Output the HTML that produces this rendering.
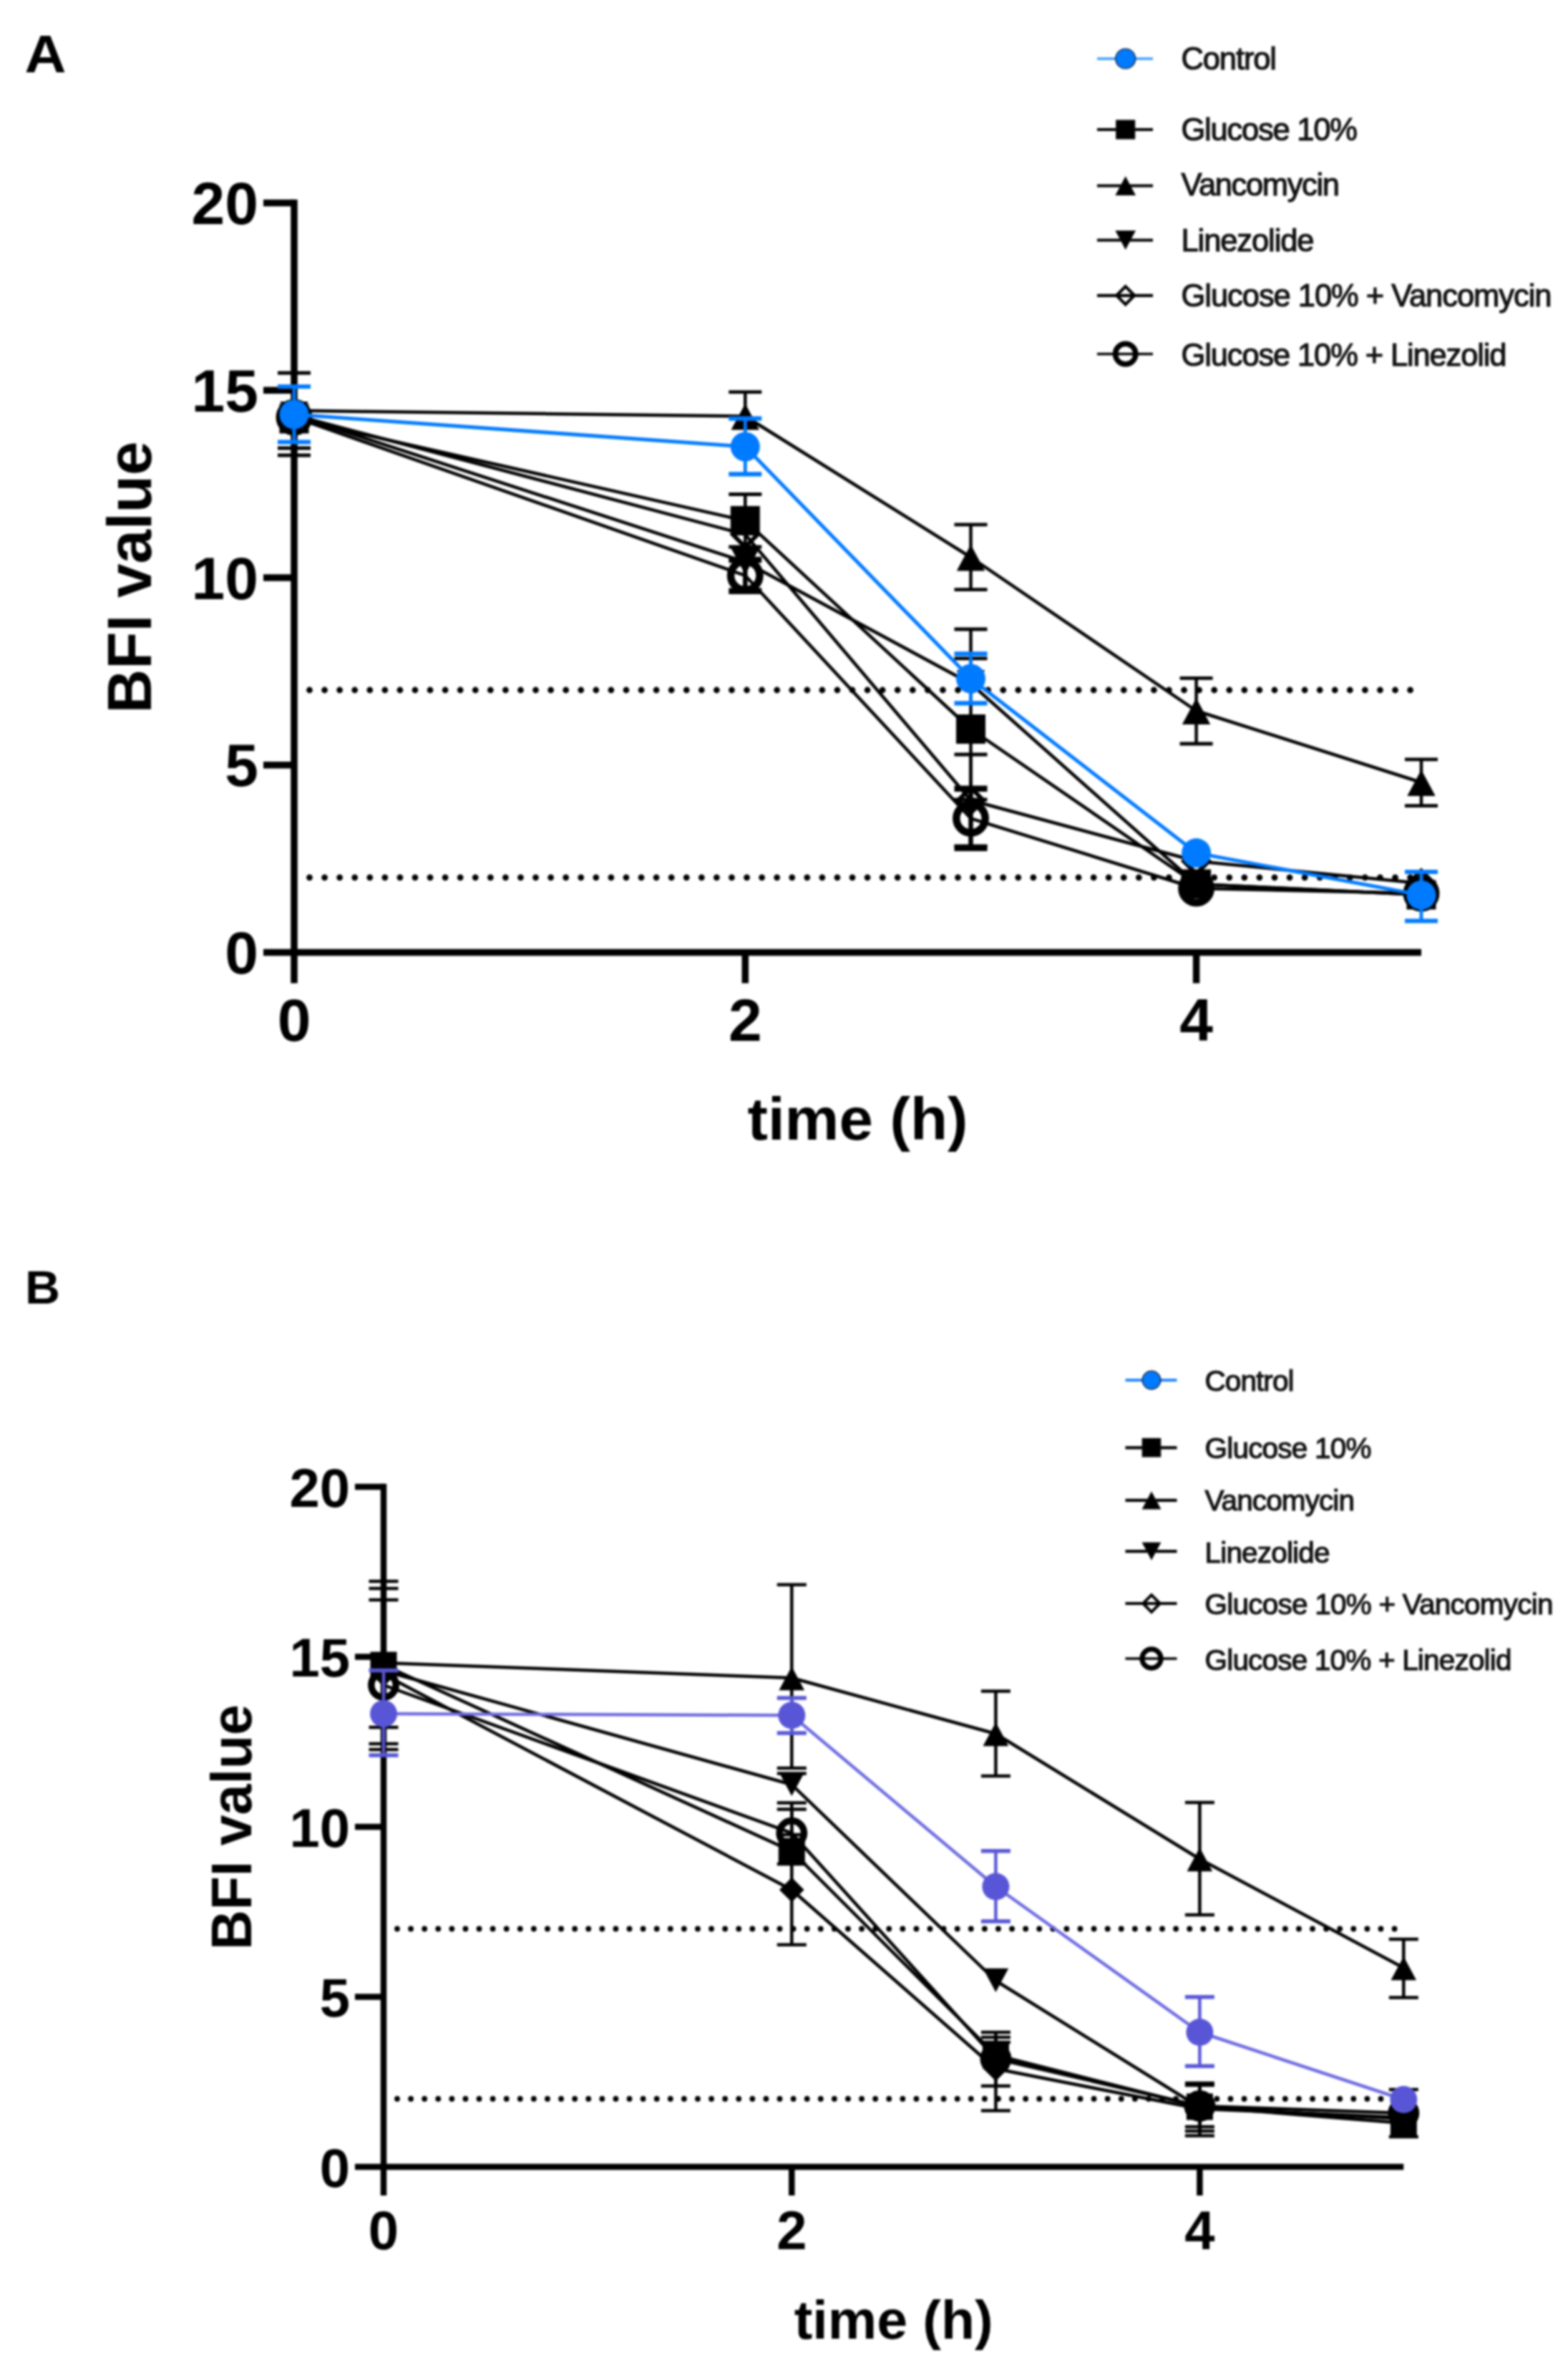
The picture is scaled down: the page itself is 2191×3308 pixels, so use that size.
<!DOCTYPE html>
<html lang="en"><head><meta charset="utf-8"><title>BFI value over time</title>
<style>html,body{margin:0;padding:0;background:#fff}body{width:2191px;height:3308px;overflow:hidden}svg{display:block;filter:blur(1.8px)}</style></head><body>
<svg width="2191" height="3308" viewBox="0 0 2191 3308">
<rect width="2191" height="3308" fill="#fff"/>
<path d="M411.0 278.8V1373.5" stroke="#000" stroke-width="9.5" fill="none"/>
<path d="M368.0 1330.5H1986.0" stroke="#000" stroke-width="9.5" fill="none"/>
<path d="M368.0 1068.8H411.0" stroke="#000" stroke-width="9.5"/>
<path d="M368.0 807.0H411.0" stroke="#000" stroke-width="9.5"/>
<path d="M368.0 545.2H411.0" stroke="#000" stroke-width="9.5"/>
<path d="M368.0 283.5H411.0" stroke="#000" stroke-width="9.5"/>
<path d="M1041.3 1330.5V1373.5" stroke="#000" stroke-width="9.5"/>
<path d="M1671.6 1330.5V1373.5" stroke="#000" stroke-width="9.5"/>
<line x1="432.5" y1="964.0" x2="1972.0" y2="964.0" stroke="#000" stroke-width="8.8" stroke-linecap="round" stroke-dasharray="0 21.07"/>
<line x1="432.5" y1="1225.8" x2="1972.0" y2="1225.8" stroke="#000" stroke-width="8.8" stroke-linecap="round" stroke-dasharray="0 21.07"/>
<path d="M1041.3 547.6V581.5" stroke="#000" stroke-width="4.5" fill="none"/>
<path d="M1018.3 547.6h46" stroke="#000" stroke-width="4.8" fill="none"/>
<path d="M1356.5 732.8V823.6" stroke="#000" stroke-width="4.5" fill="none"/>
<path d="M1333.5 732.8h46M1333.5 823.6h46" stroke="#000" stroke-width="4.8" fill="none"/>
<path d="M1671.6 947.3V1039.0" stroke="#000" stroke-width="4.5" fill="none"/>
<path d="M1648.6 947.3h46M1648.6 1039.0h46" stroke="#000" stroke-width="4.8" fill="none"/>
<path d="M1986.0 1060.8V1125.7" stroke="#000" stroke-width="4.5" fill="none"/>
<path d="M1963.0 1060.8h46M1963.0 1125.7h46" stroke="#000" stroke-width="4.8" fill="none"/>
<path d="M411.0 573.6 L1041.3 581.5 L1356.5 778.5 L1671.6 993.0 L1986.0 1093.0" stroke="#000" stroke-width="4.5" fill="none" stroke-linejoin="round"/>
<polygon points="411.0,555.8 430.7,592.7 391.3,592.7" fill="#000"/>
<polygon points="1041.3,563.7 1061.0,600.6 1021.6,600.6" fill="#000"/>
<polygon points="1356.5,760.7 1376.2,797.6 1336.8,797.6" fill="#000"/>
<polygon points="1671.6,975.2 1691.3,1012.1 1651.9,1012.1" fill="#000"/>
<polygon points="1986.0,1075.2 2005.7,1112.1 1966.3,1112.1" fill="#000"/>
<path d="M411.0 521.0V636.0" stroke="#000" stroke-width="4.5" fill="none"/>
<path d="M388.0 521.0h46M388.0 636.0h46" stroke="#000" stroke-width="4.8" fill="none"/>
<path d="M1041.3 690.5V764.0" stroke="#000" stroke-width="4.5" fill="none"/>
<path d="M1018.3 690.5h46M1018.3 764.0h46" stroke="#000" stroke-width="4.8" fill="none"/>
<path d="M1356.5 919.8V1117.0" stroke="#000" stroke-width="4.5" fill="none"/>
<path d="M1333.5 919.8h46M1333.5 1117.0h46" stroke="#000" stroke-width="4.8" fill="none"/>
<path d="M411.0 585.0 L1041.3 727.4 L1356.5 1018.5 L1671.6 1235.0 L1986.0 1250.0" stroke="#000" stroke-width="4.5" fill="none" stroke-linejoin="round"/>
<rect x="390.5" y="564.5" width="41.0" height="41.0" fill="#000"/>
<rect x="1020.8" y="706.9" width="41.0" height="41.0" fill="#000"/>
<rect x="1336.0" y="998.0" width="41.0" height="41.0" fill="#000"/>
<rect x="1651.1" y="1214.5" width="41.0" height="41.0" fill="#000"/>
<rect x="1965.5" y="1229.5" width="41.0" height="41.0" fill="#000"/>
<path d="M411.0 580.0V626.0" stroke="#000" stroke-width="4.5" fill="none"/>
<path d="M388.0 626.0h46" stroke="#000" stroke-width="4.8" fill="none"/>
<path d="M1356.5 879.0V955.0" stroke="#000" stroke-width="4.5" fill="none"/>
<path d="M1333.5 879.0h46" stroke="#000" stroke-width="4.8" fill="none"/>
<path d="M411.0 580.0 L1041.3 785.0 L1356.5 955.0 L1671.6 1235.0 L1986.0 1250.0" stroke="#000" stroke-width="4.5" fill="none" stroke-linejoin="round"/>
<polygon points="411.0,597.8 430.7,560.9 391.3,560.9" fill="#000"/>
<polygon points="1041.3,802.8 1061.0,765.9 1021.6,765.9" fill="#000"/>
<polygon points="1356.5,972.8 1376.2,935.9 1336.8,935.9" fill="#000"/>
<polygon points="1671.6,1252.8 1691.3,1215.9 1651.9,1215.9" fill="#000"/>
<polygon points="1986.0,1267.8 2005.7,1230.9 1966.3,1230.9" fill="#000"/>
<path d="M1356.5 1054.0V1182.0" stroke="#000" stroke-width="4.5" fill="none"/>
<path d="M1333.5 1054.0h46M1333.5 1182.0h46" stroke="#000" stroke-width="4.8" fill="none"/>
<path d="M411.0 580.0 L1041.3 746.6 L1356.5 1118.0 L1671.6 1203.0 L1986.0 1234.0" stroke="#000" stroke-width="4.5" fill="none" stroke-linejoin="round"/>
<polygon points="411.0,562.5 428.5,580.0 411.0,597.5 393.5,580.0" fill="none" stroke="#000" stroke-width="6" stroke-linejoin="miter"/>
<polygon points="1041.3,729.1 1058.8,746.6 1041.3,764.1 1023.8,746.6" fill="none" stroke="#000" stroke-width="6" stroke-linejoin="miter"/>
<polygon points="1356.5,1100.5 1374.0,1118.0 1356.5,1135.5 1339.0,1118.0" fill="none" stroke="#000" stroke-width="6" stroke-linejoin="miter"/>
<polygon points="1671.6,1185.5 1689.1,1203.0 1671.6,1220.5 1654.1,1203.0" fill="none" stroke="#000" stroke-width="6" stroke-linejoin="miter"/>
<polygon points="1986.0,1216.5 2003.5,1234.0 1986.0,1251.5 1968.5,1234.0" fill="none" stroke="#000" stroke-width="6" stroke-linejoin="miter"/>
<path d="M1041.3 782.0V825.7" stroke="#000" stroke-width="6.5" fill="none"/>
<path d="M1018.3 782.0h46M1018.3 825.7h46" stroke="#000" stroke-width="8.5" fill="none"/>
<path d="M1356.5 1101.8V1184.8" stroke="#000" stroke-width="6.5" fill="none"/>
<path d="M1333.5 1101.8h46M1333.5 1184.8h46" stroke="#000" stroke-width="8.5" fill="none"/>
<path d="M411.0 583.0 L1041.3 804.0 L1356.5 1143.3 L1671.6 1241.0 L1986.0 1248.0" stroke="#000" stroke-width="4.5" fill="none" stroke-linejoin="round"/>
<circle cx="411.0" cy="583.0" r="20.2" fill="none" stroke="#000" stroke-width="10.5"/>
<circle cx="1041.3" cy="804.0" r="20.2" fill="none" stroke="#000" stroke-width="10.5"/>
<circle cx="1356.5" cy="1143.3" r="20.2" fill="none" stroke="#000" stroke-width="10.5"/>
<circle cx="1671.6" cy="1241.0" r="20.2" fill="none" stroke="#000" stroke-width="10.5"/>
<circle cx="1986.0" cy="1248.0" r="20.2" fill="none" stroke="#000" stroke-width="10.5"/>
<path d="M411.0 540.0V617.5" stroke="#007aff" stroke-width="4.8" fill="none"/>
<path d="M388.0 540.0h46M388.0 617.5h46" stroke="#007aff" stroke-width="6.2" fill="none"/>
<path d="M1041.3 584.6V662.4" stroke="#007aff" stroke-width="4.8" fill="none"/>
<path d="M1018.3 584.6h46M1018.3 662.4h46" stroke="#007aff" stroke-width="6.2" fill="none"/>
<path d="M1356.5 913.4V982.3" stroke="#007aff" stroke-width="4.8" fill="none"/>
<path d="M1333.5 913.4h46M1333.5 982.3h46" stroke="#007aff" stroke-width="6.2" fill="none"/>
<path d="M1986.0 1218.0V1286.5" stroke="#007aff" stroke-width="4.8" fill="none"/>
<path d="M1963.0 1218.0h46M1963.0 1286.5h46" stroke="#007aff" stroke-width="6.2" fill="none"/>
<path d="M411.0 579.0 L1041.3 624.0 L1356.5 948.0 L1671.6 1191.6 L1986.0 1250.4" stroke="#007aff" stroke-width="5" fill="none" stroke-linejoin="round"/>
<circle cx="411.0" cy="579.0" r="20.5" fill="#007aff"/>
<circle cx="1041.3" cy="624.0" r="20.5" fill="#007aff"/>
<circle cx="1356.5" cy="948.0" r="20.5" fill="#007aff"/>
<circle cx="1671.6" cy="1191.6" r="20.5" fill="#007aff"/>
<circle cx="1986.0" cy="1250.4" r="20.5" fill="#007aff"/>
<g font-family="'Liberation Sans',Arial,Helvetica,sans-serif" font-weight="700" font-size="84" fill="#000">
<text x="361.0" y="1360.1" text-anchor="end">0</text>
<text x="361.0" y="1098.3" text-anchor="end">5</text>
<text x="361.0" y="836.6" text-anchor="end">10</text>
<text x="361.0" y="574.8" text-anchor="end">15</text>
<text x="361.0" y="313.1" text-anchor="end">20</text>
<text x="411.0" y="1453.5" text-anchor="middle">0</text>
<text x="1041.3" y="1453.5" text-anchor="middle">2</text>
<text x="1671.6" y="1453.5" text-anchor="middle">4</text>
<text x="1198.5" y="1592.0" text-anchor="middle" textLength="308" lengthAdjust="spacingAndGlyphs">time (h)</text>
<text transform="translate(210.5 806.5) rotate(-90)" font-size="87" text-anchor="middle" textLength="380" lengthAdjust="spacingAndGlyphs">BFI value</text>
</g>
<text x="34.5" y="101" font-family="'Liberation Sans',Arial,sans-serif" font-weight="700" font-size="75" textLength="58" lengthAdjust="spacingAndGlyphs" fill="#000">A</text>
<g font-family="'Liberation Sans',Arial,Helvetica,sans-serif" font-size="43.5" fill="#111" stroke="#111" stroke-width="1.2">
<line x1="1533" y1="82" x2="1611" y2="82" stroke="#3d9bff" stroke-width="3.5"/>
<circle cx="1572.7" cy="82.0" r="14.0" fill="#007aff"/>
<text x="1650.5" y="96.5" textLength="133.5" lengthAdjust="spacing">Control</text>
<line x1="1533" y1="181" x2="1611" y2="181" stroke="#000" stroke-width="4.2"/>
<rect x="1559.7" y="168.0" width="26.0" height="26.0" fill="#000"/>
<text x="1650.5" y="195.5" textLength="246.5" lengthAdjust="spacing">Glucose 10%</text>
<line x1="1533" y1="259.5" x2="1611" y2="259.5" stroke="#000" stroke-width="4.2"/>
<polygon points="1572.7,247.3 1586.1,272.5 1559.3,272.5" fill="#000"/>
<text x="1650.5" y="272.5" textLength="221.5" lengthAdjust="spacing">Vancomycin</text>
<line x1="1533" y1="335.5" x2="1611" y2="335.5" stroke="#000" stroke-width="4.2"/>
<polygon points="1572.7,347.7 1586.1,322.5 1559.3,322.5" fill="#000"/>
<text x="1650.5" y="350.5" textLength="186" lengthAdjust="spacing">Linezolide</text>
<line x1="1533" y1="412.8" x2="1611" y2="412.8" stroke="#000" stroke-width="4.2"/>
<polygon points="1572.7,400.3 1585.2,412.8 1572.7,425.3 1560.2,412.8" fill="none" stroke="#000" stroke-width="4.2" stroke-linejoin="miter"/>
<text x="1650.5" y="427.5" textLength="518" lengthAdjust="spacing">Glucose 10% + Vancomycin</text>
<line x1="1533" y1="494.5" x2="1611" y2="494.5" stroke="#000" stroke-width="3.3"/>
<circle cx="1572.7" cy="494.5" r="14.2" fill="none" stroke="#000" stroke-width="7.5"/>
<text x="1650.5" y="510.5" textLength="455" lengthAdjust="spacing">Glucose 10% + Linezolid</text>
</g>
<path d="M536.0 2072.8V3067.0" stroke="#000" stroke-width="8.5" fill="none"/>
<path d="M496.0 3027.0H1961.3" stroke="#000" stroke-width="8.5" fill="none"/>
<path d="M496.0 2789.5H536.0" stroke="#000" stroke-width="8.5"/>
<path d="M496.0 2552.0H536.0" stroke="#000" stroke-width="8.5"/>
<path d="M496.0 2314.5H536.0" stroke="#000" stroke-width="8.5"/>
<path d="M496.0 2077.0H536.0" stroke="#000" stroke-width="8.5"/>
<path d="M1106.3 3027.0V3067.0" stroke="#000" stroke-width="8.5"/>
<path d="M1676.4 3027.0V3067.0" stroke="#000" stroke-width="8.5"/>
<line x1="555.0" y1="2694.5" x2="1951.0" y2="2694.5" stroke="#000" stroke-width="7.8" stroke-linecap="round" stroke-dasharray="0 19.09"/>
<line x1="555.0" y1="2932.0" x2="1951.0" y2="2932.0" stroke="#000" stroke-width="7.8" stroke-linecap="round" stroke-dasharray="0 19.09"/>
<path d="M536.0 2235.0V2413.0" stroke="#000" stroke-width="4.5" fill="none"/>
<path d="M515.5 2235.0h41M515.5 2413.0h41" stroke="#000" stroke-width="4.5" fill="none"/>
<path d="M1106.3 2213.8V2470.0" stroke="#000" stroke-width="4.5" fill="none"/>
<path d="M1085.8 2213.8h41M1085.8 2470.0h41" stroke="#000" stroke-width="4.5" fill="none"/>
<path d="M1391.4 2362.5V2481.0" stroke="#000" stroke-width="4.5" fill="none"/>
<path d="M1370.9 2362.5h41M1370.9 2481.0h41" stroke="#000" stroke-width="4.5" fill="none"/>
<path d="M1676.4 2518.0V2675.0" stroke="#000" stroke-width="4.5" fill="none"/>
<path d="M1655.9 2518.0h41M1655.9 2675.0h41" stroke="#000" stroke-width="4.5" fill="none"/>
<path d="M1961.3 2709.0V2790.6" stroke="#000" stroke-width="4.5" fill="none"/>
<path d="M1940.8 2709.0h41M1940.8 2790.6h41" stroke="#000" stroke-width="4.5" fill="none"/>
<path d="M536.0 2323.0 L1106.3 2344.0 L1391.4 2422.0 L1676.4 2597.0 L1961.3 2749.0" stroke="#000" stroke-width="4.5" fill="none" stroke-linejoin="round"/>
<polygon points="536.0,2306.9 553.8,2340.2 518.2,2340.2" fill="#000"/>
<polygon points="1106.3,2327.9 1124.1,2361.2 1088.5,2361.2" fill="#000"/>
<polygon points="1391.4,2405.9 1409.2,2439.2 1373.6,2439.2" fill="#000"/>
<polygon points="1676.4,2580.9 1694.2,2614.2 1658.6,2614.2" fill="#000"/>
<polygon points="1961.3,2732.9 1979.1,2766.2 1943.5,2766.2" fill="#000"/>
<path d="M536.0 2209.0V2436.0" stroke="#000" stroke-width="4.5" fill="none"/>
<path d="M515.5 2209.0h41M515.5 2436.0h41" stroke="#000" stroke-width="4.5" fill="none"/>
<path d="M1106.3 2527.5V2586.0" stroke="#000" stroke-width="4.5" fill="none"/>
<path d="M1085.8 2527.5h41" stroke="#000" stroke-width="4.5" fill="none"/>
<path d="M1391.4 2839.0V2914.0" stroke="#000" stroke-width="4.5" fill="none"/>
<path d="M1370.9 2839.0h41M1370.9 2914.0h41" stroke="#000" stroke-width="4.5" fill="none"/>
<path d="M1676.4 2913.0V2971.0" stroke="#000" stroke-width="4.5" fill="none"/>
<path d="M1655.9 2913.0h41M1655.9 2971.0h41" stroke="#000" stroke-width="4.5" fill="none"/>
<path d="M536.0 2326.0 L1106.3 2586.0 L1391.4 2871.0 L1676.4 2943.0 L1961.3 2966.0" stroke="#000" stroke-width="4.5" fill="none" stroke-linejoin="round"/>
<rect x="517.5" y="2307.5" width="37.0" height="37.0" fill="#000"/>
<rect x="1087.8" y="2567.5" width="37.0" height="37.0" fill="#000"/>
<rect x="1372.9" y="2852.5" width="37.0" height="37.0" fill="#000"/>
<rect x="1657.9" y="2924.5" width="37.0" height="37.0" fill="#000"/>
<rect x="1942.8" y="2947.5" width="37.0" height="37.0" fill="#000"/>
<path d="M536.0 2219.0V2444.0" stroke="#000" stroke-width="4.5" fill="none"/>
<path d="M515.5 2219.0h41M515.5 2444.0h41" stroke="#000" stroke-width="4.5" fill="none"/>
<path d="M1106.3 2477.5V2493.0" stroke="#000" stroke-width="4.5" fill="none"/>
<path d="M1085.8 2477.5h41" stroke="#000" stroke-width="4.5" fill="none"/>
<path d="M536.0 2334.0 L1106.3 2493.0 L1391.4 2767.0 L1676.4 2944.0 L1961.3 2960.0" stroke="#000" stroke-width="4.5" fill="none" stroke-linejoin="round"/>
<polygon points="536.0,2350.1 553.8,2316.8 518.2,2316.8" fill="#000"/>
<polygon points="1106.3,2509.1 1124.1,2475.8 1088.5,2475.8" fill="#000"/>
<polygon points="1391.4,2783.1 1409.2,2749.8 1373.6,2749.8" fill="#000"/>
<polygon points="1676.4,2960.1 1694.2,2926.8 1658.6,2926.8" fill="#000"/>
<polygon points="1961.3,2976.1 1979.1,2942.8 1943.5,2942.8" fill="#000"/>
<path d="M1106.3 2563.0V2716.8" stroke="#000" stroke-width="4.5" fill="none"/>
<path d="M1085.8 2563.0h41M1085.8 2716.8h41" stroke="#000" stroke-width="4.5" fill="none"/>
<path d="M1391.4 2846.0V2948.5" stroke="#000" stroke-width="4.5" fill="none"/>
<path d="M1370.9 2846.0h41M1370.9 2948.5h41" stroke="#000" stroke-width="4.5" fill="none"/>
<path d="M1676.4 2946.0V2977.0" stroke="#000" stroke-width="4.5" fill="none"/>
<path d="M1655.9 2977.0h41" stroke="#000" stroke-width="4.5" fill="none"/>
<path d="M536.0 2339.0 L1106.3 2640.0 L1391.4 2890.0 L1676.4 2946.0 L1961.3 2958.0" stroke="#000" stroke-width="4.5" fill="none" stroke-linejoin="round"/>
<polygon points="536.0,2324.5 550.5,2339.0 536.0,2353.5 521.5,2339.0" fill="#000" stroke="#000" stroke-width="4"/>
<polygon points="1106.3,2625.5 1120.8,2640.0 1106.3,2654.5 1091.8,2640.0" fill="#000" stroke="#000" stroke-width="4"/>
<polygon points="1391.4,2875.5 1405.9,2890.0 1391.4,2904.5 1376.9,2890.0" fill="#000" stroke="#000" stroke-width="4"/>
<polygon points="1676.4,2931.5 1690.9,2946.0 1676.4,2960.5 1661.9,2946.0" fill="#000" stroke="#000" stroke-width="4"/>
<polygon points="1961.3,2943.5 1975.8,2958.0 1961.3,2972.5 1946.8,2958.0" fill="#000" stroke="#000" stroke-width="4"/>
<path d="M1106.3 2518.6V2604.0" stroke="#000" stroke-width="4.5" fill="none"/>
<path d="M1085.8 2518.6h41M1085.8 2604.0h41" stroke="#000" stroke-width="4.5" fill="none"/>
<path d="M1391.4 2853.0V2876.0" stroke="#000" stroke-width="4.5" fill="none"/>
<path d="M1370.9 2853.0h41" stroke="#000" stroke-width="4.5" fill="none"/>
<path d="M1676.4 2910.0V2983.5" stroke="#000" stroke-width="4.5" fill="none"/>
<path d="M1655.9 2910.0h41M1655.9 2983.5h41" stroke="#000" stroke-width="4.5" fill="none"/>
<path d="M1961.3 2919.0V2985.0" stroke="#000" stroke-width="4.5" fill="none"/>
<path d="M1940.8 2919.0h41M1940.8 2985.0h41" stroke="#000" stroke-width="4.5" fill="none"/>
<path d="M536.0 2354.0 L1106.3 2560.7 L1391.4 2876.0 L1676.4 2942.0 L1961.3 2952.0" stroke="#000" stroke-width="4.5" fill="none" stroke-linejoin="round"/>
<circle cx="536.0" cy="2354.0" r="17.2" fill="none" stroke="#000" stroke-width="9.5"/>
<circle cx="1106.3" cy="2560.7" r="17.2" fill="none" stroke="#000" stroke-width="9.5"/>
<circle cx="1391.4" cy="2876.0" r="17.2" fill="none" stroke="#000" stroke-width="9.5"/>
<circle cx="1676.4" cy="2942.0" r="17.2" fill="none" stroke="#000" stroke-width="9.5"/>
<circle cx="1961.3" cy="2952.0" r="17.2" fill="none" stroke="#000" stroke-width="9.5"/>
<path d="M536.0 2333.4V2452.0" stroke="#5856d6" stroke-width="4.5" fill="none"/>
<path d="M515.5 2333.4h41M515.5 2452.0h41" stroke="#5856d6" stroke-width="5.5" fill="none"/>
<path d="M1106.3 2372.0V2421.0" stroke="#5856d6" stroke-width="4.5" fill="none"/>
<path d="M1085.8 2372.0h41M1085.8 2421.0h41" stroke="#5856d6" stroke-width="5.5" fill="none"/>
<path d="M1391.4 2585.7V2684.0" stroke="#5856d6" stroke-width="4.5" fill="none"/>
<path d="M1370.9 2585.7h41M1370.9 2684.0h41" stroke="#5856d6" stroke-width="5.5" fill="none"/>
<path d="M1676.4 2789.8V2886.3" stroke="#5856d6" stroke-width="4.5" fill="none"/>
<path d="M1655.9 2789.8h41M1655.9 2886.3h41" stroke="#5856d6" stroke-width="5.5" fill="none"/>
<path d="M536.0 2394.0 L1106.3 2396.2 L1391.4 2635.5 L1676.4 2839.0 L1961.3 2933.0" stroke="#6e6ce0" stroke-width="4.5" fill="none" stroke-linejoin="round"/>
<circle cx="536.0" cy="2394.0" r="19.0" fill="#5856d6"/>
<circle cx="1106.3" cy="2396.2" r="19.0" fill="#5856d6"/>
<circle cx="1391.4" cy="2635.5" r="19.0" fill="#5856d6"/>
<circle cx="1676.4" cy="2839.0" r="19.0" fill="#5856d6"/>
<circle cx="1961.3" cy="2933.0" r="19.0" fill="#5856d6"/>
<g font-family="'Liberation Sans',Arial,Helvetica,sans-serif" font-weight="700" font-size="76" fill="#000">
<text x="489.0" y="3054.7" text-anchor="end">0</text>
<text x="489.0" y="2817.2" text-anchor="end">5</text>
<text x="489.0" y="2579.7" text-anchor="end">10</text>
<text x="489.0" y="2342.2" text-anchor="end">15</text>
<text x="489.0" y="2104.7" text-anchor="end">20</text>
<text x="536.0" y="3141.5" text-anchor="middle">0</text>
<text x="1106.3" y="3141.5" text-anchor="middle">2</text>
<text x="1676.4" y="3141.5" text-anchor="middle">4</text>
<text x="1248.7" y="3267.0" text-anchor="middle" textLength="278" lengthAdjust="spacingAndGlyphs">time (h)</text>
<text transform="translate(350.5 2552.5) rotate(-90)" font-size="79" text-anchor="middle" textLength="343" lengthAdjust="spacingAndGlyphs">BFI value</text>
</g>
<text x="35" y="1821" font-family="'Liberation Sans',Arial,sans-serif" font-weight="700" font-size="65" textLength="49" lengthAdjust="spacingAndGlyphs" fill="#000">B</text>
<g font-family="'Liberation Sans',Arial,Helvetica,sans-serif" font-size="40.5" fill="#111" stroke="#111" stroke-width="1.2">
<line x1="1572.5" y1="1928" x2="1644.5" y2="1928" stroke="#1f86ff" stroke-width="3.8"/>
<circle cx="1609.0" cy="1928.0" r="12.8" fill="#007aff"/>
<text x="1683.5" y="1942.5" textLength="125" lengthAdjust="spacing">Control</text>
<line x1="1572.5" y1="2022.3" x2="1644.5" y2="2022.3" stroke="#000" stroke-width="4.2"/>
<rect x="1596.2" y="2009.5" width="25.5" height="25.5" fill="#000"/>
<text x="1683.5" y="2036.5" textLength="233" lengthAdjust="spacing">Glucose 10%</text>
<line x1="1572.5" y1="2095.8" x2="1644.5" y2="2095.8" stroke="#000" stroke-width="4.2"/>
<polygon points="1609.0,2084.5 1621.5,2107.9 1596.5,2107.9" fill="#000"/>
<text x="1683.5" y="2109.5" textLength="209.5" lengthAdjust="spacing">Vancomycin</text>
<line x1="1572.5" y1="2167.2" x2="1644.5" y2="2167.2" stroke="#000" stroke-width="4.2"/>
<polygon points="1609.0,2178.5 1621.5,2155.1 1596.5,2155.1" fill="#000"/>
<text x="1683.5" y="2183" textLength="175" lengthAdjust="spacing">Linezolide</text>
<line x1="1572.5" y1="2240" x2="1644.5" y2="2240" stroke="#000" stroke-width="4.2"/>
<polygon points="1609.0,2228.2 1620.8,2240.0 1609.0,2251.8 1597.2,2240.0" fill="none" stroke="#000" stroke-width="4" stroke-linejoin="miter"/>
<text x="1683.5" y="2255" textLength="487" lengthAdjust="spacing">Glucose 10% + Vancomycin</text>
<line x1="1572.5" y1="2317" x2="1644.5" y2="2317" stroke="#000" stroke-width="3.3"/>
<circle cx="1609.0" cy="2317.0" r="13.2" fill="none" stroke="#000" stroke-width="7"/>
<text x="1683.5" y="2332.5" textLength="429" lengthAdjust="spacing">Glucose 10% + Linezolid</text>
</g>
</svg></body></html>
